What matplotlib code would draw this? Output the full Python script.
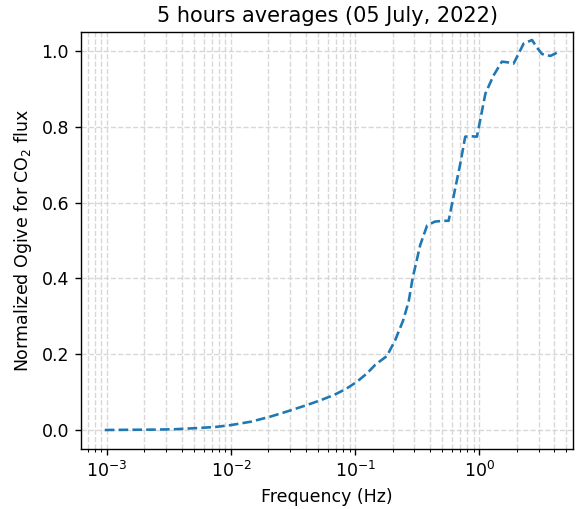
import matplotlib
matplotlib.use("Agg")
import matplotlib.pyplot as plt

# frequency (Hz) and normalized ogive
freq = [0.00096, 0.0015, 0.0025, 0.0035, 0.0053, 0.0075, 0.01, 0.0145, 0.0206,
        0.029, 0.041, 0.053, 0.067, 0.084, 0.103, 0.125, 0.145, 0.159, 0.18,
        0.21, 0.244, 0.27, 0.29, 0.334, 0.38, 0.44, 0.52, 0.566, 0.62, 0.7,
        0.77, 0.86, 0.957, 1.12, 1.3, 1.52, 1.7, 1.89, 2.28, 2.66, 2.9, 3.2,
        3.74, 4.37]
ogive = [0.0, 0.0005, 0.001, 0.002, 0.005, 0.008, 0.013, 0.022, 0.035,
         0.05, 0.066, 0.079, 0.092, 0.108, 0.127, 0.15, 0.172, 0.182, 0.195,
         0.237, 0.29, 0.34, 0.40, 0.488, 0.54, 0.55, 0.552, 0.552, 0.616, 0.70,
         0.774, 0.775, 0.774, 0.888, 0.935, 0.972, 0.97, 0.967, 1.02, 1.029, 1.01, 0.992,
         0.987, 0.998]

fig, ax = plt.subplots(figsize=(4.608, 4.072), dpi=125)
ax.plot(freq, ogive, linestyle="--", color="tab:blue")
ax.set_xscale("log")
ax.set_xlim(6.2e-4, 5.7)
ax.set_ylim(-0.05, 1.05)
ax.grid(True, which="both", linestyle="--", color="lightgray", alpha=0.9)
ax.set_xlabel("Frequency (Hz)")
ax.set_ylabel("Normalized Ogive for CO$_2$ flux")
ax.set_title("5 hours averages (05 July, 2022)")
fig.subplots_adjust(left=0.141, right=0.995, top=0.937, bottom=0.118)
fig.savefig("out.png", dpi=125)
